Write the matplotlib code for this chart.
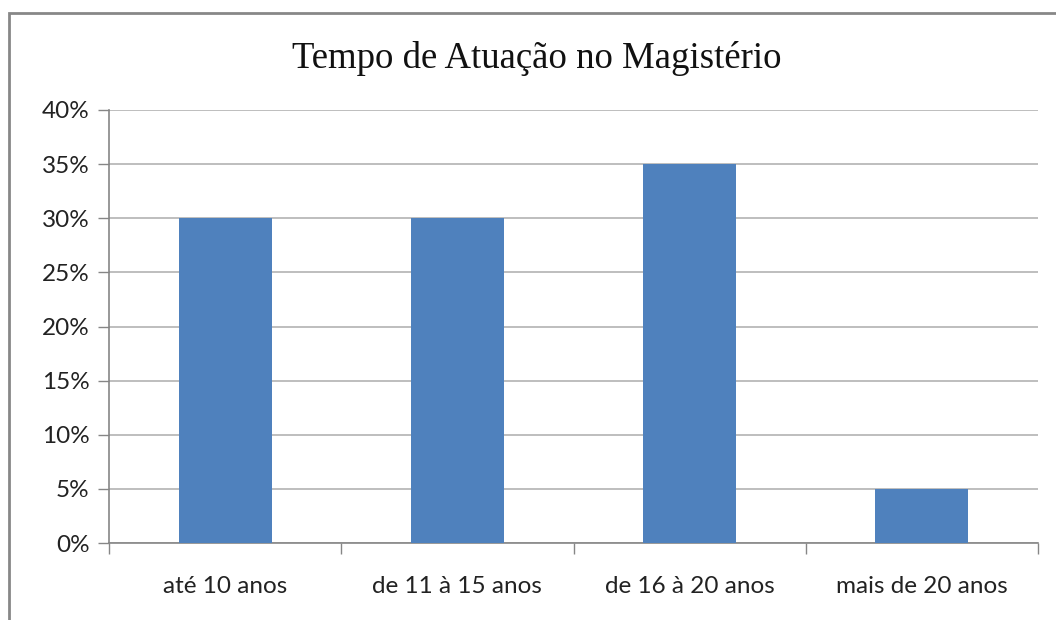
import matplotlib
matplotlib.use("Agg")
import matplotlib.pyplot as plt
from matplotlib.patches import Rectangle
import numpy as np

categories = ["até 10 anos", "de 11 à 15 anos", "de 16 à 20 anos", "mais de 20 anos"]
values = [30, 30, 35, 5]
yticks = [0, 5, 10, 15, 20, 25, 30, 35, 40]
ytick_labels = [f"{v}%" for v in yticks]
title = "Tempo de Atuação no Magistério"

W, H = 1056, 620
fig = plt.figure(figsize=(W/100, H/100), dpi=100)
fig.patch.set_facecolor("white")

# chart frame
fig.add_artist(Rectangle((8.5/W, -0.1), 1.2, (H-12.5)/H + 0.1, transform=fig.transFigure,
                         fill=False, edgecolor="#878787", linewidth=2.0))

left, right = 109, 1038
top, bottom = 110, 543
ax = fig.add_axes([left/W, 1-bottom/H, (right-left)/W, (bottom-top)/H])

x = np.arange(len(categories))
ax.bar(x, values, width=0.4, color="#4F81BD", zorder=3)
ax.set_xlim(-0.5, len(categories)-0.5)
ax.set_ylim(0, 40)
ax.set_yticks(yticks)
ax.set_yticklabels(ytick_labels, fontsize=17.5, family="Lato", color="#222222")
ax.set_xticks(x)
ax.set_xticklabels(categories, fontsize=17.5, family="Lato", color="#222222")
ax.tick_params(axis="x", length=0, pad=24)
ax.set_xticks(np.arange(len(categories)+1)-0.5, minor=True)
ax.tick_params(axis="x", which="minor", length=8, color="#868686", width=1)
ax.tick_params(axis="y", length=8, color="#868686", width=1, pad=6)
ax.yaxis.grid(True, color="#b3b3b3", linewidth=1.2, zorder=0)
ax.set_axisbelow(True)
for s in ["top", "right"]:
    ax.spines[s].set_visible(False)
for s in ["left", "bottom"]:
    ax.spines[s].set_color("#868686")
    ax.spines[s].set_linewidth(1.2)

fig.text(537/W, 1-58/H, title, ha="center", va="center", fontsize=26.5,
         family="Liberation Serif", color="#111111")

fig.savefig("out.png", dpi=100, facecolor="white")
